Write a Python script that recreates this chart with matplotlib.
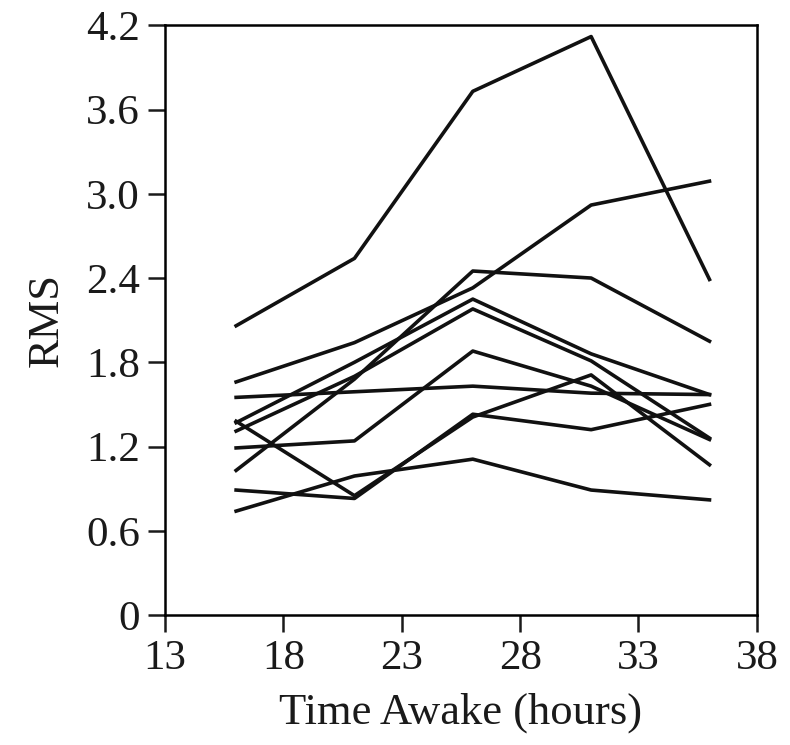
import numpy as np
import matplotlib
matplotlib.use('Agg')
import matplotlib.pyplot as plt

# hours awake at each session
hours = [16, 21, 26, 31, 36]

# RMS per subject
subj_1 = [2.06, 2.54, 3.73, 4.12, 2.39]
subj_2 = [1.66, 1.94, 2.33, 2.92, 3.09]
subj_3 = [1.55, 1.59, 1.63, 1.58, 1.57]
subj_4 = [1.03, 1.68, 2.45, 2.40, 1.95]
subj_5 = [1.37, 1.80, 2.25, 1.86, 1.57]
subj_6 = [1.31, 1.70, 2.18, 1.81, 1.26]
subj_7 = [1.38, 0.85, 1.41, 1.71, 1.07]
subj_8 = [0.89, 0.83, 1.43, 1.32, 1.50]
subj_9 = [1.19, 1.24, 1.88, 1.63, 1.25]
subj_10 = [0.74, 0.99, 1.11, 0.89, 0.82]
subjects = [subj_1, subj_2, subj_3, subj_4, subj_5,
            subj_6, subj_7, subj_8, subj_9, subj_10]

xticks = [13, 18, 23, 28, 33, 38]
yticks = [0, 0.6, 1.2, 1.8, 2.4, 3.0, 3.6, 4.2]
ytick_labels = ['0', '0.6', '1.2', '1.8', '2.4', '3.0', '3.6', '4.2']

plt.rcParams['font.family'] = ['Liberation Serif', 'DejaVu Serif']

fig = plt.figure(figsize=(7.9, 7.45), dpi=100)
ax = fig.add_axes([0.209, 0.1745, 0.749, 0.7915])

for s in subjects:
    ax.plot(hours, s, color='#111111', lw=2.6)

ax.set_xlim(13, 38)
ax.set_ylim(0, 4.2)
ax.set_xticks(xticks)
ax.set_yticks(yticks)
ax.set_yticklabels(ytick_labels)
ax.tick_params(direction='out', length=12, width=1.8, labelsize=31, pad=6, colors='#1a1a1a')
for sp in ax.spines.values():
    sp.set_linewidth(1.8)

ax.set_xlabel('Time Awake (hours)', fontsize=32, labelpad=10, color='#1a1a1a')
ax.set_ylabel('RMS', fontsize=32, labelpad=14, color='#1a1a1a')

fig.savefig('out.png', dpi=100)
